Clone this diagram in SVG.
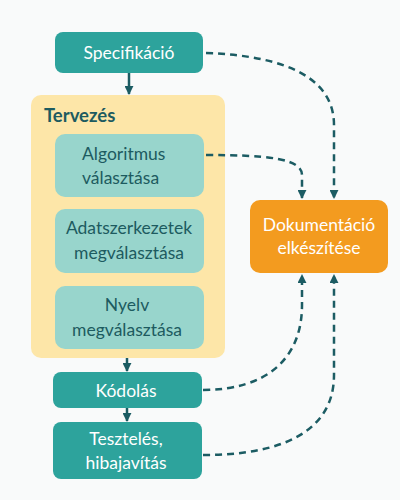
<svg xmlns="http://www.w3.org/2000/svg" width="400" height="500" viewBox="0 0 400 500">
<defs>
<marker id="ah" viewBox="0 0 10 10" refX="9" refY="5" markerWidth="3.6" markerHeight="3.6" orient="auto" markerUnits="strokeWidth">
<path d="M0,0 L10,5 L0,10 z" fill="#1c5c63"/>
</marker>
<style>
.t{font-family:Lato,"Open Sans","Noto Sans",sans-serif;font-size:17.5px}
.w{fill:#ffffff}
.d{fill:#1d5b60}
.main{fill:#2da39c}
.sub{fill:#98d5cc}
.solid{fill:none;stroke:#1c5c63;stroke-width:2.5}
.dash{fill:none;stroke:#1c5c63;stroke-width:2.5;stroke-dasharray:7 5}
</style>
</defs>
<rect width="400" height="500" fill="#f9fafa"/>
<g id="tervezes">
<rect x="31" y="95" width="194" height="263" rx="10" fill="#fde6a8"/>
<text class="t d" x="44" y="122" font-weight="bold" style="font-size:18.5px">Tervezés</text>
</g>
<g id="specifikacio">
<rect class="main" x="55" y="32" width="148" height="41" rx="8"/>
<text class="t w" x="129" y="58.5" text-anchor="middle">Specifikáció</text>
</g>
<g id="algoritmus">
<rect class="sub" x="55" y="134" width="149" height="63" rx="10"/>
<text class="t d" x="82" y="159.5">Algoritmus</text>
<text class="t d" x="82" y="184">választása</text>
</g>
<g id="adatszerkezetek">
<rect class="sub" x="55" y="209" width="149" height="64" rx="10"/>
<text class="t d" x="129" y="234" text-anchor="middle">Adatszerkezetek</text>
<text class="t d" x="129" y="258.5" text-anchor="middle">megválasztása</text>
</g>
<g id="nyelv">
<rect class="sub" x="55" y="286" width="149" height="63" rx="10"/>
<text class="t d" x="127" y="311" text-anchor="middle">Nyelv</text>
<text class="t d" x="127" y="335.5" text-anchor="middle">megválasztása</text>
</g>
<g id="kodolas">
<rect class="main" x="53" y="372" width="149" height="36" rx="8"/>
<text class="t w" x="126" y="396.5" text-anchor="middle">Kódolás</text>
</g>
<g id="teszteles">
<rect class="main" x="53" y="422" width="149" height="57" rx="8"/>
<text class="t w" x="126" y="445" text-anchor="middle">Tesztelés,</text>
<text class="t w" x="126" y="468.5" text-anchor="middle">hibajavítás</text>
</g>
<g id="dokumentacio">
<rect x="250" y="200" width="138" height="73" rx="10" fill="#f39b1f"/>
<text class="t w" x="319" y="231" text-anchor="middle">Dokumentáció</text>
<text class="t w" x="319" y="254" text-anchor="middle">elkészítése</text>
</g>
<g id="connectors">
<path class="solid" d="M129,73 L129,94" marker-end="url(#ah)"/>
<path class="solid" d="M127,358 L127,371" marker-end="url(#ah)"/>
<path class="solid" d="M127,408 L127,421" marker-end="url(#ah)"/>
<path class="dash" d="M206,53 C290,56 334,80 334,125 L334,198" marker-end="url(#ah)"/>
<path class="dash" d="M206,155 C265,155 302,158 302,175 L302,198" marker-end="url(#ah)"/>
<path class="dash" d="M203,390 C265,390 302,360 302,305 L302,275" marker-end="url(#ah)"/>
<path class="dash" d="M203,455 C285,455 334,430 334,375 L334,275" marker-end="url(#ah)"/>
</g>
</svg>
